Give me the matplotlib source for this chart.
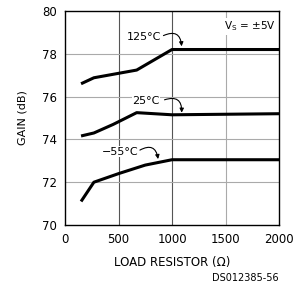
import matplotlib
matplotlib.use("Agg")
import matplotlib.pyplot as plt

x_125 = [150, 270, 670, 1000, 2000]
y_125 = [76.6, 76.88, 77.24, 78.2, 78.2]
x_25 = [150, 270, 450, 670, 1000, 2000]
y_25 = [74.16, 74.3, 74.7, 75.25, 75.15, 75.2]
x_m55 = [150, 270, 500, 750, 1000, 2000]
y_m55 = [71.1, 72.0, 72.4, 72.8, 73.05, 73.05]

xticks = [0, 500, 1000, 1500, 2000]
yticks = [70, 72, 74, 76, 78, 80]

plt.rcParams['font.family'] = ['DejaVu Sans']
fig = plt.figure(figsize=(2.97, 2.90), dpi=100)
ax = fig.add_axes([65/297, 1-225/290, 214/297, 214/290])
ax.set_xlim(0, 2000)
ax.set_ylim(70, 80)
for v in [500, 1000]:
    ax.axvline(v, color='#555555', lw=0.8, zorder=1)
ax.axvline(1500, color='#aaaaaa', lw=0.8, zorder=1)
for v in [72, 74, 76, 78]:
    ax.axhline(v, color='#aaaaaa', lw=0.8, zorder=1)

for xs, ys in [(x_125, y_125), (x_25, y_25), (x_m55, y_m55)]:
    ax.plot(xs, ys, color='black', lw=2.2, zorder=3, solid_capstyle='butt')

ax.set_xticks(xticks)
ax.set_yticks(yticks)
ax.tick_params(length=0, labelsize=8.5, pad=6)
for s in ax.spines.values():
    s.set_linewidth(1.0)

bb = dict(facecolor='white', edgecolor='none', pad=0.3)
ax.text(575, 78.8, '125°C', fontsize=8, ha='left', va='center', zorder=4, bbox=bb)
ax.text(630, 75.8, '25°C', fontsize=8, ha='left', va='center', zorder=4, bbox=bb)
ax.text(340, 73.42, '−55°C', fontsize=8, ha='left', va='center', zorder=4, bbox=bb)

arrow_kw = dict(arrowstyle='-|>', color='black', lw=0.8, mutation_scale=6,
                connectionstyle='arc3,rad=-0.7', shrinkA=0, shrinkB=0)
ax.annotate('', xy=(1090, 78.35), xytext=(920, 78.85), arrowprops=arrow_kw, zorder=5)
ax.annotate('', xy=(1090, 75.25), xytext=(930, 75.85), arrowprops=arrow_kw, zorder=5)
ax.annotate('', xy=(870, 73.08), xytext=(700, 73.5), arrowprops=arrow_kw, zorder=5)

ax.text(1970, 79.6, r'V$_\mathrm{S}$ = ±5V', fontsize=7.5, ha='right', va='top', zorder=4,
        bbox=dict(facecolor='white', edgecolor='none', pad=1))

ax.set_ylabel('GAIN (dB)', fontsize=8, labelpad=10)
ax.set_xlabel('LOAD RESISTOR (Ω)', fontsize=8.5, labelpad=7)
fig.text(279/297, 1-278/290, 'DS012385-56', fontsize=7, ha='right', va='center')

fig.savefig('out.png', dpi=100)
